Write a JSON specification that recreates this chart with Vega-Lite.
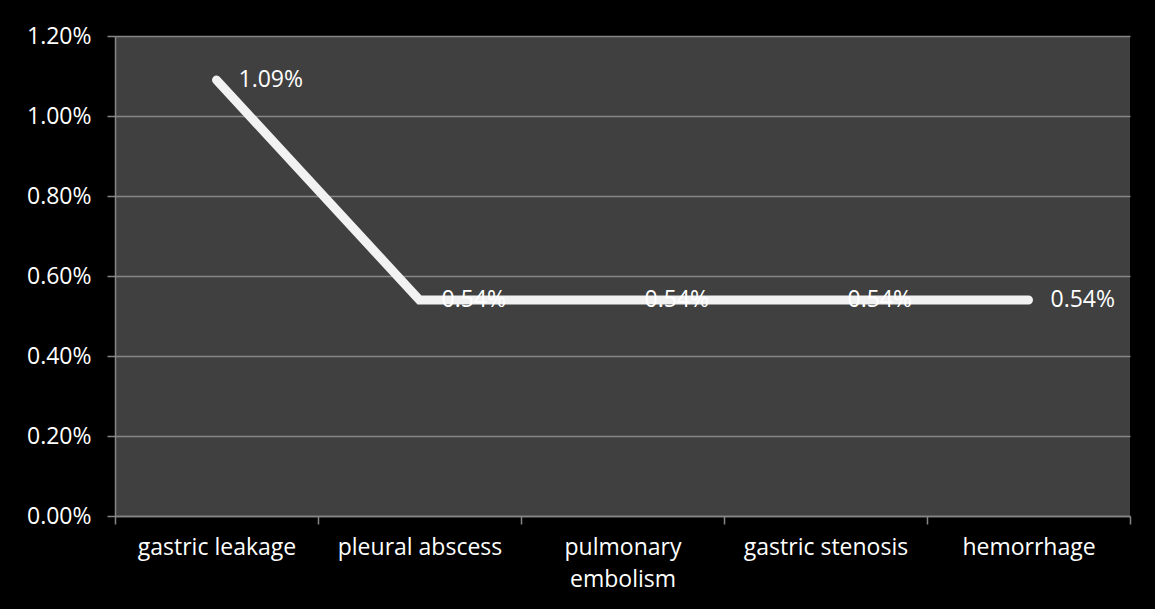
{
  "$schema": "https://vega.github.io/schema/vega-lite/v6.json",
  "width": 1015,
  "height": 480,
  "autosize": {"type": "none"},
  "padding": {"left": 115, "top": 36, "right": 25, "bottom": 93},
  "background": "#000000",
  "view": {"fill": "#404040", "stroke": null},
  "config": {
    "font": "Open Sans",
    "axis": {
      "labelFont": "Open Sans",
      "labelFontSize": 23,
      "labelColor": "#ffffff",
      "domainColor": "#868686",
      "tickColor": "#868686",
      "gridColor": "#868686",
      "domainWidth": 1.5,
      "tickWidth": 1.5,
      "gridWidth": 1.5,
      "tickSize": 8
    }
  },
  "data": {
    "values": [
      {"complication": "gastric leakage", "rate": 0.0109},
      {"complication": "pleural abscess", "rate": 0.0054},
      {"complication": "pulmonary embolism", "rate": 0.0054},
      {"complication": "gastric stenosis", "rate": 0.0054},
      {"complication": "hemorrhage", "rate": 0.0054}
    ]
  },
  "encoding": {
    "x": {
      "field": "complication",
      "type": "nominal",
      "sort": null,
      "scale": {"paddingInner": 0, "paddingOuter": 0},
      "axis": {
        "title": null,
        "labelAngle": 0,
        "grid": false,
        "tickBand": "extent",
        "labelPadding": 12,
        "labelLineHeight": 32,
        "labelExpr": "datum.label == 'pulmonary embolism' ? ['pulmonary', 'embolism'] : datum.label"
      }
    },
    "y": {
      "field": "rate",
      "type": "quantitative",
      "scale": {"domain": [0, 0.012], "nice": false},
      "axis": {
        "title": null,
        "format": ".2%",
        "values": [0, 0.002, 0.004, 0.006, 0.008, 0.01, 0.012],
        "grid": true,
        "labelPadding": 16
      }
    }
  },
  "layer": [
    {
      "mark": {"type": "line", "color": "#f2f2f2", "strokeWidth": 9, "strokeCap": "round", "strokeJoin": "miter"}
    },
    {
      "mark": {"type": "text", "align": "left", "baseline": "middle", "dx": 22, "fontSize": 23, "color": "#ffffff", "font": "Open Sans"},
      "encoding": {"text": {"field": "rate", "type": "quantitative", "format": ".2%"}}
    }
  ]
}
